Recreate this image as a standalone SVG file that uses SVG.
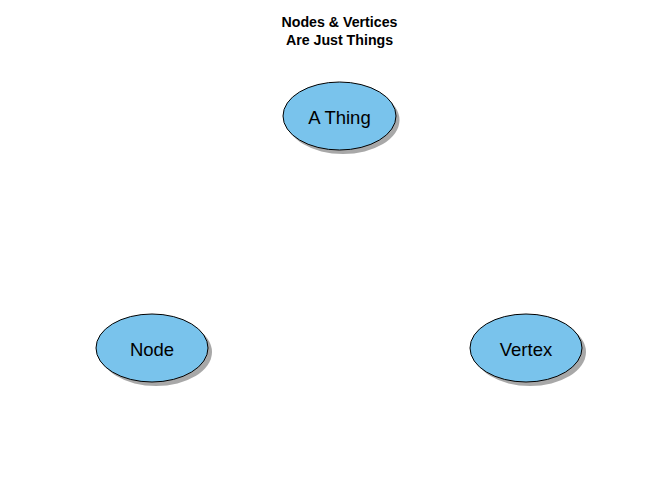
<svg xmlns="http://www.w3.org/2000/svg" width="650" height="480" viewBox="0 0 650 480">
<style>
.shadow{fill:#a8a8a8;stroke:none}
.node{fill:#79c3ec;stroke:#000;stroke-width:1}
.lbl{font-family:"Liberation Sans",Arial,sans-serif;font-size:18.5px;fill:#000;text-anchor:middle;dominant-baseline:central}
.title{font-family:"Liberation Sans",Arial,sans-serif;font-size:14.2px;font-weight:bold;fill:#000;text-anchor:middle}
</style>
<rect width="650" height="480" fill="#fff"/>
<g id="title">
<text class="title" x="339.5" y="27">Nodes &amp; Vertices</text>
<text class="title" x="339.5" y="45">Are Just Things</text>
</g>
<g id="connectors"></g>
<g id="athing">
<ellipse class="shadow" cx="343" cy="120" rx="56.5" ry="34"/>
<ellipse class="node" cx="339.5" cy="116" rx="56.5" ry="34"/>
<text class="lbl" x="339.5" y="117">A Thing</text>
</g>
<g id="node">
<ellipse class="shadow" cx="156" cy="352" rx="56" ry="34"/>
<ellipse class="node" cx="152" cy="348" rx="56" ry="34"/>
<text class="lbl" x="152" y="349">Node</text>
</g>
<g id="vertex">
<ellipse class="shadow" cx="530" cy="352" rx="56" ry="34"/>
<ellipse class="node" cx="526" cy="348" rx="56" ry="34"/>
<text class="lbl" x="526" y="349">Vertex</text>
</g>
</svg>
